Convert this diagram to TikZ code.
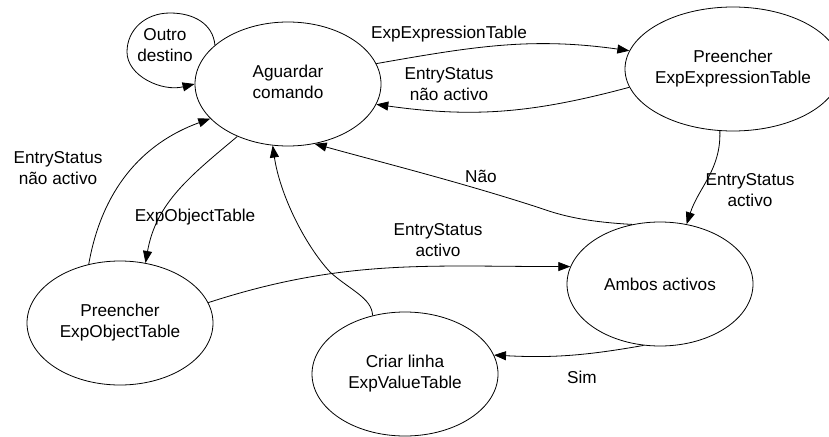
\documentclass[tikz,border=0pt]{standalone}
\usepackage{fontspec}
\setmainfont{Liberation Sans}
\usetikzlibrary{shapes.geometric,arrows.meta}
\newcommand\twolines[2]{\makebox[0pt][c]{\begin{tabular}{@{}c@{}}#1\\#2\end{tabular}}}
\begin{document}
\begin{tikzpicture}[x=1pt,y=-1pt,
  every node/.style={font=\fontsize{17.2}{20.5}\selectfont},
  state/.style={ellipse,draw,line width=0.8pt,minimum width=186pt,minimum height=124pt,inner sep=0pt},
  lbl/.style={inner sep=0pt,align=center},
  edge/.style={draw,line width=0.8pt,-{Triangle[length=12pt,width=9pt]}}]
\useasboundingbox (0,0) rectangle (829,436);

\node[state] (A) at (288,84) {\twolines{Aguardar}{comando}};
\node[state,minimum width=216pt] (E) at (733,69) {\twolines{Preencher}{ExpExpressionTable}};
\node[state] (B) at (660,284) {\makebox[0pt][c]{Ambos activos}};
\node[state] (C) at (405,374) {\twolines{Criar linha}{ExpValueTable}};
\node[state] (O) at (120,323) {\twolines{Preencher}{ExpObjectTable}};

% self loop
\draw[edge] (A.152) .. controls (213,24) and (194,13) .. (170,13)
  .. controls (145,13) and (127,30) .. (127,52)
  .. controls (127,76) and (162,92) .. (A.180);
\node[lbl] (lo) at (165,45) {Outro\\destino};

% A -> E
\draw[edge] (A.13) to[out=10,in=172] (E.170);
\node[lbl] (l1) at (449,34) {ExpExpressionTable};

% E -> A
\draw[edge] (E.190) to[out=195,in=-8] (A.-13);
\node[lbl] (l2) at (449,84) {EntryStatus\\não activo};

% E -> B
\draw[edge] (E.-102) to[out=-88,in=72] (B.66);
\node[lbl] (l3) at (750,190) {EntryStatus\\activo};

% B -> A
\draw[edge] (B.115) .. controls (590,222) and (565,217) .. (540,208)
  .. controls (460,182) and (380,162) .. (A.-66);
\node[lbl] (l4) at (481,176) {Não};

% A -> O
\draw[edge] (A.-134) to[out=-140,in=80] (O.67);
\node[lbl] (l5) at (195,217) {ExpObjectTable};

% O -> A
\draw[edge] (O.118) to[out=80,in=200] (A.204);
\node[lbl] (l6) at (58,168) {EntryStatus\\não activo};

% O -> B
\draw[edge] (O.13) to[out=18,in=180] (B.169);
\node[lbl] (l7) at (438,240) {EntryStatus\\activo};

% B -> C
\draw[edge] (B.-105) to[out=190,in=-3] (C.12);
\node[lbl] (l8) at (582,377) {Sim};

% C -> A
\draw[edge] (C.119) .. controls (372,298) and (350,290) .. (330,272)
  .. controls (305,245) and (280,195) .. (A.-104);
\end{tikzpicture}
\end{document}
